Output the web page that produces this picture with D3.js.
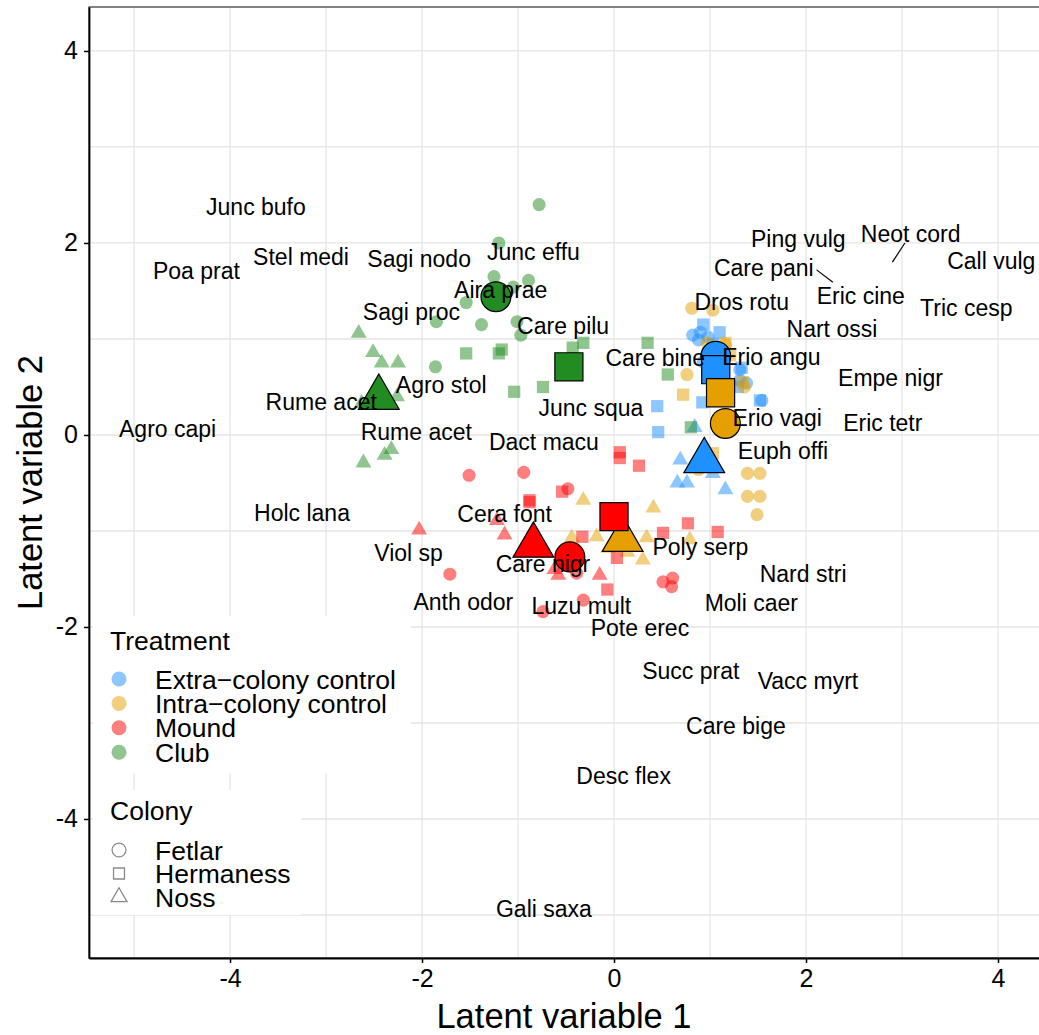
<!DOCTYPE html>
<html>
<head>
<meta charset="utf-8">
<script src="https://cdn.jsdelivr.net/npm/d3@7"></script>
<style>
  body { margin: 0; background: #fff; }
  svg text { font-family: "Liberation Sans", Arial, sans-serif; fill: #000; }
</style>
</head>
<body>
<div id="chart"></div>
<script>
// treatments and colonies
const treatments = ["Extra\u2212colony control", "Intra\u2212colony control", "Mound", "Club"];
const colonies = ["Fetlar", "Hermaness", "Noss"];

// site scores (latent variable 1, latent variable 2)
const extraFetlar = [[0.90,1.07],[0.88,0.99],[0.98,1.02],[0.93,0.76],[1.31,0.57],[1.38,0.54],[1.54,0.36],[1.31,0.68],[0.82,1.04]];
const extraHermaness = [[0.93,1.15],[1.10,1.07],[1.33,0.70],[0.45,0.30],[0.46,0.03],[0.92,0.34],[1.52,0.36],[1.29,0.50],[1.03,0.95]];
const extraNoss = [[0.69,-0.26],[0.66,-0.50],[0.76,-0.50],[1.16,-0.57],[1.03,-0.40],[0.84,0.08],[1.00,-0.33]];

const intraFetlar = [[1.39,-0.40],[1.52,-0.40],[1.39,-0.64],[1.52,-0.64],[1.49,-0.83],[0.76,0.63],[0.81,1.32],[1.03,1.30],[0.97,0.96],[1.16,0.94],[1.36,0.50],[0.88,-0.36]];
const intraHermaness = [[0.72,0.42],[1.16,0.96],[1.21,0.83],[1.03,-0.19],[1.34,0.55]];
const intraNoss = [[-0.32,-0.68],[0.41,-0.76],[-0.44,-1.07],[-0.18,-1.06],[-0.06,-1.18],[0.14,-1.22],[0.30,-1.30],[0.34,-1.07],[0.79,-1.09]];

const moundFetlar = [[-1.51,-0.42],[-0.94,-0.39],[-0.48,-0.56],[-1.71,-1.45],[-0.32,-1.72],[-0.74,-1.84],[0.51,-1.53],[0.61,-1.49],[0.60,-1.58],[-0.39,-1.44]];
const moundHermaness = [[0.06,-0.18],[0.06,-0.24],[0.26,-0.32],[-0.54,-0.59],[-0.88,-0.70],[-0.33,-1.06],[0.03,-1.28],[-0.07,-1.61],[0.77,-0.92],[0.51,-1.02],[1.08,-1.01],[-0.88,-0.68]];
const moundNoss = [[-2.03,-0.99],[-1.14,-1.04],[-1.22,-0.89],[-0.58,-1.46],[-0.15,-1.46],[-0.62,-1.40]];

const clubFetlar = [[-0.78,2.40],[-1.20,2.00],[-1.25,1.65],[-1.05,1.54],[-0.89,1.61],[-1.54,1.38],[-1.85,1.18],[-1.38,1.15],[-1.01,1.18],[-0.97,1.04],[-1.86,0.71]];
const clubHermaness = [[-1.54,0.85],[-1.20,0.85],[-1.17,0.89],[-0.32,0.96],[-0.43,0.91],[0.35,0.96],[-0.74,0.50],[-1.04,0.45],[0.56,0.63],[0.80,0.08]];
const clubNoss = [[-2.66,1.06],[-2.51,0.86],[-2.42,0.75],[-2.25,0.75],[-2.61,-0.29],[-2.39,-0.21],[-2.32,-0.15],[-2.63,0.33],[-2.26,0.40]];

// group centroids, one row per treatment, one entry per colony
const extraMeans = [[1.06,0.82],[1.06,0.68],[0.94,-0.27]];
const intraMeans = [[1.16,0.12],[1.11,0.44],[0.09,-1.09]];
const moundMeans = [[-0.46,-1.27],[0.00,-0.85],[-0.84,-1.15]];
const clubMeans = [[-1.23,1.44],[-0.47,0.71],[-2.45,0.39]];

// species label positions
const speciesNames = ["Junc bufo","Stel medi","Poa prat","Sagi nodo","Junc effu","Aira prae","Sagi proc","Care pilu",
  "Agro stol","Rume acet","Rume acet","Agro capi","Junc squa","Dact macu","Holc lana","Cera font","Viol sp","Care nigr",
  "Anth odor","Luzu mult","Pote erec","Poly serp","Nard stri","Moli caer","Succ prat","Vacc myrt","Care bige","Desc flex",
  "Gali saxa","Dros rotu","Care bine","Erio angu","Erio vagi","Euph offi","Empe nigr","Eric tetr","Nart ossi","Tric cesp",
  "Eric cine","Care pani","Ping vulg","Neot cord","Call vulg"];
const speciesX = [-3.73,-3.26,-4.35,-2.03,-0.84,-1.18,-2.11,-0.53,
  -1.80,-3.05,-2.06,-4.65,-0.24,-0.73,-3.25,-1.14,-2.14,-0.74,
  -1.57,-0.34,0.27,0.90,1.97,1.43,0.80,2.02,1.27,0.10,
  -0.73,1.33,0.43,1.64,1.70,1.76,2.88,2.80,2.27,3.67,
  2.57,1.56,1.92,3.09,3.93];
const speciesY = [2.375,1.86,1.71,1.84,1.91,1.51,1.28,1.14,
  0.52,0.35,0.03,0.06,0.28,-0.07,-0.81,-0.82,-1.23,-1.34,
  -1.74,-1.78,-2.01,-1.16,-1.45,-1.75,-2.46,-2.56,-3.03,-3.55,
  -4.93,1.39,0.80,0.82,0.18,-0.16,0.60,0.13,1.11,1.33,
  1.45,1.74,2.04,2.10,1.81];

// repel segments: label end -> species point
const segFrom = [[2.11,1.72],[3.03,2.00]];
const segTo = [[2.28,1.59],[2.90,1.80]];

const xTicks = [-4, -2, 0, 2, 4];
const yTicks = [-4, -2, 0, 2, 4];
const xMinor = [-5, -3, -1, 1, 3];
const yMinor = [-5, -3, -1, 1, 3];

// ---- layout ----
const width = 1039, height = 1035;
const plot = {left: 89, right: 1039, top: 7, bottom: 958};

const baseColor = ["#1E90FF", "#E69F00", "#FF0000", "#228B22"];
const shapeType = [d3.symbolCircle, d3.symbolSquare, d3.symbolTriangle];
const smallSize = [135, 150, 110];
const bigSize = [700, 790, 720];

const sites = [
  [extraFetlar, extraHermaness, extraNoss],
  [intraFetlar, intraHermaness, intraNoss],
  [moundFetlar, moundHermaness, moundNoss],
  [clubFetlar, clubHermaness, clubNoss]
];
const means = [extraMeans, intraMeans, moundMeans, clubMeans];

const x = d3.scaleLinear().domain([-5.469, 4.427]).range([plot.left, plot.right]);
const y = d3.scaleLinear().domain([-5.448, 4.458]).range([plot.bottom, plot.top]);

const svg = d3.select("#chart").append("svg")
  .attr("width", width)
  .attr("height", height);

// grid
const grid = svg.append("g").attr("stroke", "#e5e5e5").attr("stroke-width", 1.3);
grid.selectAll(".vx")
  .data(xTicks.concat(xMinor))
  .enter().append("line")
  .attr("x1", d => x(d)).attr("x2", d => x(d))
  .attr("y1", plot.top).attr("y2", plot.bottom);
grid.selectAll(".hy")
  .data(yTicks.concat(yMinor))
  .enter().append("line")
  .attr("y1", d => y(d)).attr("y2", d => y(d))
  .attr("x1", plot.left).attr("x2", plot.right);

// small site points
const pts = svg.append("g");
sites.forEach((byColony, t) => {
  byColony.forEach((arr, c) => {
    pts.selectAll(null)
      .data(arr)
      .enter().append("path")
      .attr("d", d3.symbol().type(shapeType[c]).size(smallSize[c]))
      .attr("transform", d => "translate(" + x(d[0]) + "," + y(d[1]) + ")")
      .attr("fill", baseColor[t])
      .attr("fill-opacity", 0.5);
  });
});

// centroids
const bigs = svg.append("g");
means.forEach((arr, t) => {
  bigs.selectAll(null)
    .data(arr)
    .enter().append("path")
    .attr("d", (d, c) => d3.symbol().type(shapeType[c]).size(bigSize[c])())
    .attr("transform", d => "translate(" + x(d[0]) + "," + y(d[1]) + ")")
    .attr("fill", baseColor[t])
    .attr("stroke", "#000")
    .attr("stroke-width", 1.2);
});

// species labels
svg.append("g").selectAll("line")
  .data(segFrom)
  .enter().append("line")
  .attr("x1", d => x(d[0])).attr("y1", d => y(d[1]))
  .attr("x2", (d, i) => x(segTo[i][0])).attr("y2", (d, i) => y(segTo[i][1]))
  .attr("stroke", "#000").attr("stroke-width", 1.2);

svg.append("g").selectAll("text")
  .data(speciesNames)
  .enter().append("text")
  .attr("x", (d, i) => x(speciesX[i]))
  .attr("y", (d, i) => y(speciesY[i]))
  .attr("dy", "0.36em")
  .attr("text-anchor", "middle")
  .attr("font-size", 23)
  .text(d => d);

// legends (white boxes over the grid)
function legendBox(x0, y0, w, h) {
  svg.append("rect").attr("x", x0).attr("y", y0).attr("width", w).attr("height", h).attr("fill", "#fff");
}
legendBox(93, 616, 318, 157);
legendBox(93, 790, 208, 125);

svg.append("text").attr("x", 110).attr("y", 650).attr("font-size", 26.5).text("Treatment");
const legT = svg.append("g").selectAll("g")
  .data(treatments)
  .enter().append("g")
  .attr("transform", (d, i) => "translate(119," + (679 + i * 24.4) + ")");
legT.append("circle").attr("r", 7.5)
  .attr("fill", (d, i) => baseColor[i]).attr("fill-opacity", 0.5);
legT.append("text").attr("x", 36).attr("dy", "0.36em").attr("font-size", 26.5).text(d => d);

svg.append("text").attr("x", 110).attr("y", 820).attr("font-size", 26.5).text("Colony");
const legC = svg.append("g").selectAll("g")
  .data(colonies)
  .enter().append("g")
  .attr("transform", (d, i) => "translate(119," + (850 + i * 23.5) + ")");
legC.append("path")
  .attr("d", (d, i) => d3.symbol().type(shapeType[i]).size([150, 120, 110][i])())
  .attr("fill", "none").attr("stroke", "#8a8a8a").attr("stroke-width", 1.3);
legC.append("text").attr("x", 36).attr("dy", "0.36em").attr("font-size", 26.5).text(d => d);

// panel border and axes
svg.append("rect")
  .attr("x", plot.left).attr("y", plot.top)
  .attr("width", plot.right - plot.left + 2).attr("height", plot.bottom - plot.top)
  .attr("fill", "none").attr("stroke", "#333").attr("stroke-width", 1.2);

const xAxis = svg.append("g")
  .attr("transform", "translate(0," + plot.bottom + ")")
  .call(d3.axisBottom(x).tickValues(xTicks).tickSize(5).tickSizeOuter(0).tickPadding(6)
    .tickFormat(d => d < 0 ? "-" + Math.abs(d) : d));
const yAxis = svg.append("g")
  .attr("transform", "translate(" + plot.left + ",0)")
  .call(d3.axisLeft(y).tickValues(yTicks).tickSize(5).tickSizeOuter(0).tickPadding(6)
    .tickFormat(d => d < 0 ? "-" + Math.abs(d) : d));
[xAxis, yAxis].forEach(a => {
  a.select(".domain").attr("stroke", "#000").attr("stroke-width", 1.8);
  a.selectAll(".tick line").attr("stroke", "#000").attr("stroke-width", 1.5);
  a.selectAll(".tick text").attr("font-size", 25).attr("fill", "#000")
    .attr("font-family", "\"Liberation Sans\", Arial, sans-serif");
});

// axis titles
svg.append("text")
  .attr("x", (plot.left + plot.right) / 2).attr("y", 1028)
  .attr("text-anchor", "middle").attr("font-size", 34.5)
  .text("Latent variable 1");
svg.append("text")
  .attr("transform", "translate(42," + ((plot.top + plot.bottom) / 2) + ") rotate(-90)")
  .attr("text-anchor", "middle").attr("font-size", 34.5)
  .text("Latent variable 2");
</script>
</body>
</html>
